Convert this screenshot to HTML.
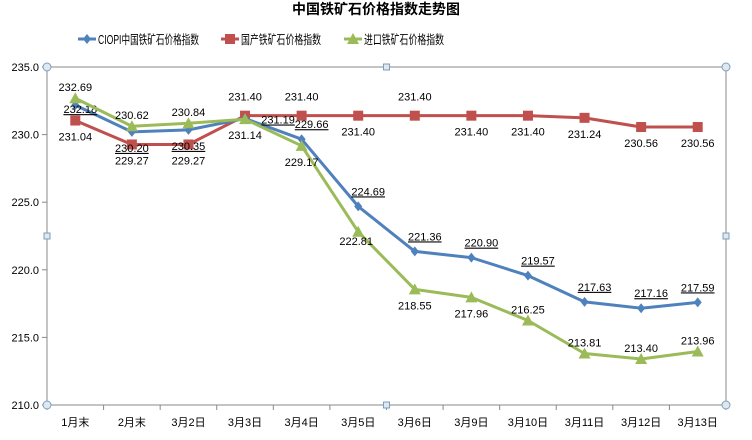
<!DOCTYPE html>
<html><head><meta charset="utf-8"><style>
body{margin:0;background:#fff;}
svg text{font-family:"Liberation Sans","Noto Sans CJK SC",sans-serif;}
</style></head><body>
<svg id="c" width="752" height="435" xmlns="http://www.w3.org/2000/svg">
<rect x="0" y="0" width="752" height="435" fill="#fff"/>
<text x="376" y="14" text-anchor="middle" font-size="14" font-weight="bold" fill="#000">中国铁矿石价格指数走势图</text>
<g id="legend"></g>
<g id="plot"></g>
</svg>
<script>
const categories=["1月末","2月末","3月2日","3月3日","3月4日","3月5日","3月6日","3月9日","3月10日","3月11日","3月12日","3月13日"];
const ciopi=[232.18,230.20,230.35,231.19,229.66,224.69,221.36,220.90,219.57,217.63,217.16,217.59];
const domestic=[231.04,229.27,229.27,231.40,231.40,231.40,231.40,231.40,231.40,231.24,230.56,230.56];
const imported=[232.69,230.62,230.84,231.14,229.17,222.81,218.55,217.96,216.25,213.81,213.40,213.96];
const yTicks=[210,215,220,225,230,235];
const yTickLabels=["210.0","215.0","220.0","225.0","230.0","235.0"];
const seriesNames=["CIOPI中国铁矿石价格指数","国产铁矿石价格指数","进口铁矿石价格指数"];
// label placement codes: a=above, b=below, r=right, l=left-below, c=just below
const ciopiPos=["c","b","b","r","a","a","a","a","a","a","a","a"];
const domesticPos=["b","b","b","a","a","b","a","b","b","b","b","b"];
const importedPos=["a","a","a","b","b","l","b","b","a","a","a","a"];

const NS="http://www.w3.org/2000/svg";
const L=47,R=726,T=67,B=405,yMin=210,yMax=235;
const bw=(R-L)/categories.length;
const x=i=>L+bw*(i+0.5);
const y=v=>B-(v-yMin)/(yMax-yMin)*(B-T);
const plot=document.getElementById('plot');
function mk(tag,attrs,parent){const e=document.createElementNS(NS,tag);for(const k in attrs)e.setAttribute(k,attrs[k]);(parent||plot).appendChild(e);return e;}

let ax=mk('line',{x1:L,y1:T,x2:L,y2:B,stroke:'#888','stroke-width':1});


let bx=mk('line',{x1:L,y1:B,x2:R,y2:B,stroke:'#888','stroke-width':1});


mk('line',{x1:L,y1:T,x2:R,y2:T,stroke:'#888','stroke-width':1});
mk('line',{x1:R,y1:T,x2:R,y2:B,stroke:'#888','stroke-width':1});
yTicks.forEach((t,i)=>{
  mk('line',{x1:L-5,y1:y(t),x2:L,y2:y(t),stroke:'#888'});
  const tx=mk('text',{x:L-8,y:y(t)+4,'text-anchor':'end','font-size':11,fill:'#000'});
  tx.textContent=yTickLabels[i];
  
  
});
for(let i=0;i<=categories.length;i++){mk('line',{x1:L+bw*i,y1:B,x2:L+bw*i,y2:B+5,stroke:'#888'});}
categories.forEach((c,i)=>{
  const tx=mk('text',{x:x(i),y:B+21,'text-anchor':'middle','font-size':11,fill:'#000'});
  tx.textContent=c;
  
  
});
[[L,T],[R,T],[L,B],[R,B]].forEach(p=>mk('circle',{cx:p[0],cy:p[1],r:4,fill:'#dde8f0',stroke:'#7f9db9'}));
[[(L+R)/2,T],[(L+R)/2,B],[L,(T+B)/2],[R,(T+B)/2]].forEach(p=>mk('rect',{x:p[0]-3,y:p[1]-3,width:6,height:6,fill:'#dde8f0',stroke:'#7f9db9'}));

const colors=["#4f81bd","#c0504d","#9bbb59"];
function marker(type,cx,cy,col,g){
  if(type===0)return mk('path',{d:`M${cx} ${cy-5}L${cx+4} ${cy}L${cx} ${cy+5}L${cx-4} ${cy}Z`,fill:col},g);
  if(type===1)return mk('rect',{x:cx-5,y:cy-5,width:10,height:10,fill:col},g);
  return mk('path',{d:`M${cx} ${cy-6}L${cx+6} ${cy+5}L${cx-6} ${cy+5}Z`,fill:col},g);
}
function drawSeries(vals,pos,k,name,underline){
  const g=mk('g',{});
  
  
  mk('polyline',{points:vals.map((v,i)=>x(i)+','+y(v)).join(' '),fill:'none',stroke:colors[k],'stroke-width':3,'stroke-linejoin':'round'},g);
  vals.forEach((v,i)=>{
    const m=marker(k,x(i),y(v),colors[k],g);
    
    
  });
  vals.forEach((v,i)=>{
    let lx=x(i),ly=y(v),p=pos[i];
    if(p==='a'){
      if(k===0){lx+=(i===vals.length-1?0:10);ly-=11;}else if(k===1){ly-=15;}else{ly-=7;}
    }else if(p==='b')ly+=20;
    else if(p==='r'){lx+=33;ly+=5;}
    else if(p==='c'){lx+=5;ly+=8;}
    else{lx-=2;ly+=13;}
    const t=mk('text',{x:lx,y:ly,'text-anchor':'middle','font-size':11,fill:'#000'},g);
    if(underline)t.setAttribute('text-decoration','underline');
    t.textContent=v.toFixed(2);
    
    
  });
}
drawSeries(domestic,domesticPos,1,'series-domestic',false);
drawSeries(ciopi,ciopiPos,0,'series-ciopi',true);
drawSeries(imported,importedPos,2,'series-imported',false);

const lg=document.getElementById('legend');
const lx=[78,221,344];
const lw=[101,80,80];
seriesNames.forEach((n,k)=>{
  const g=mk('g',{},lg);
  
  
  const sx=lx[k];
  mk('line',{x1:sx,y1:39,x2:sx+18,y2:39,stroke:colors[k],'stroke-width':3},g);
  marker(k,sx+9,39,colors[k],g);
  const t=mk('text',{x:sx+20,y:44,'font-size':12.5,fill:'#000',textLength:lw[k],lengthAdjust:'spacingAndGlyphs'},g);
  t.textContent=n;
});
</script>
</body></html>
